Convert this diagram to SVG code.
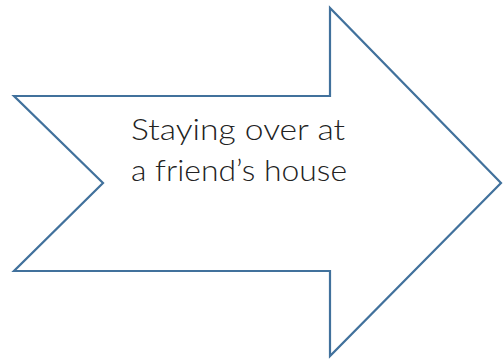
<svg xmlns="http://www.w3.org/2000/svg" width="503" height="360" viewBox="0 0 503 360">
<style>
.shape{fill:#FFFFFF;stroke:#41719C;stroke-width:2.2;stroke-linejoin:miter}
.lbl{font-family:Lato,"Open Sans","Liberation Sans",sans-serif;font-weight:300;font-size:29px;fill:#222222}
</style>
<rect width="503" height="360" fill="#FFFFFF"/>
<g id="arrow">
<polygon class="shape" points="14,96 330,96 330,8 501,183 330,356 330,271 14,271 103,183"/>
<text class="lbl" x="131" y="140" textLength="214" lengthAdjust="spacingAndGlyphs">Staying over at</text>
<text class="lbl" x="131" y="181" textLength="216" lengthAdjust="spacingAndGlyphs">a friend’s house</text>
</g>
<g id="connectors"></g>
</svg>
